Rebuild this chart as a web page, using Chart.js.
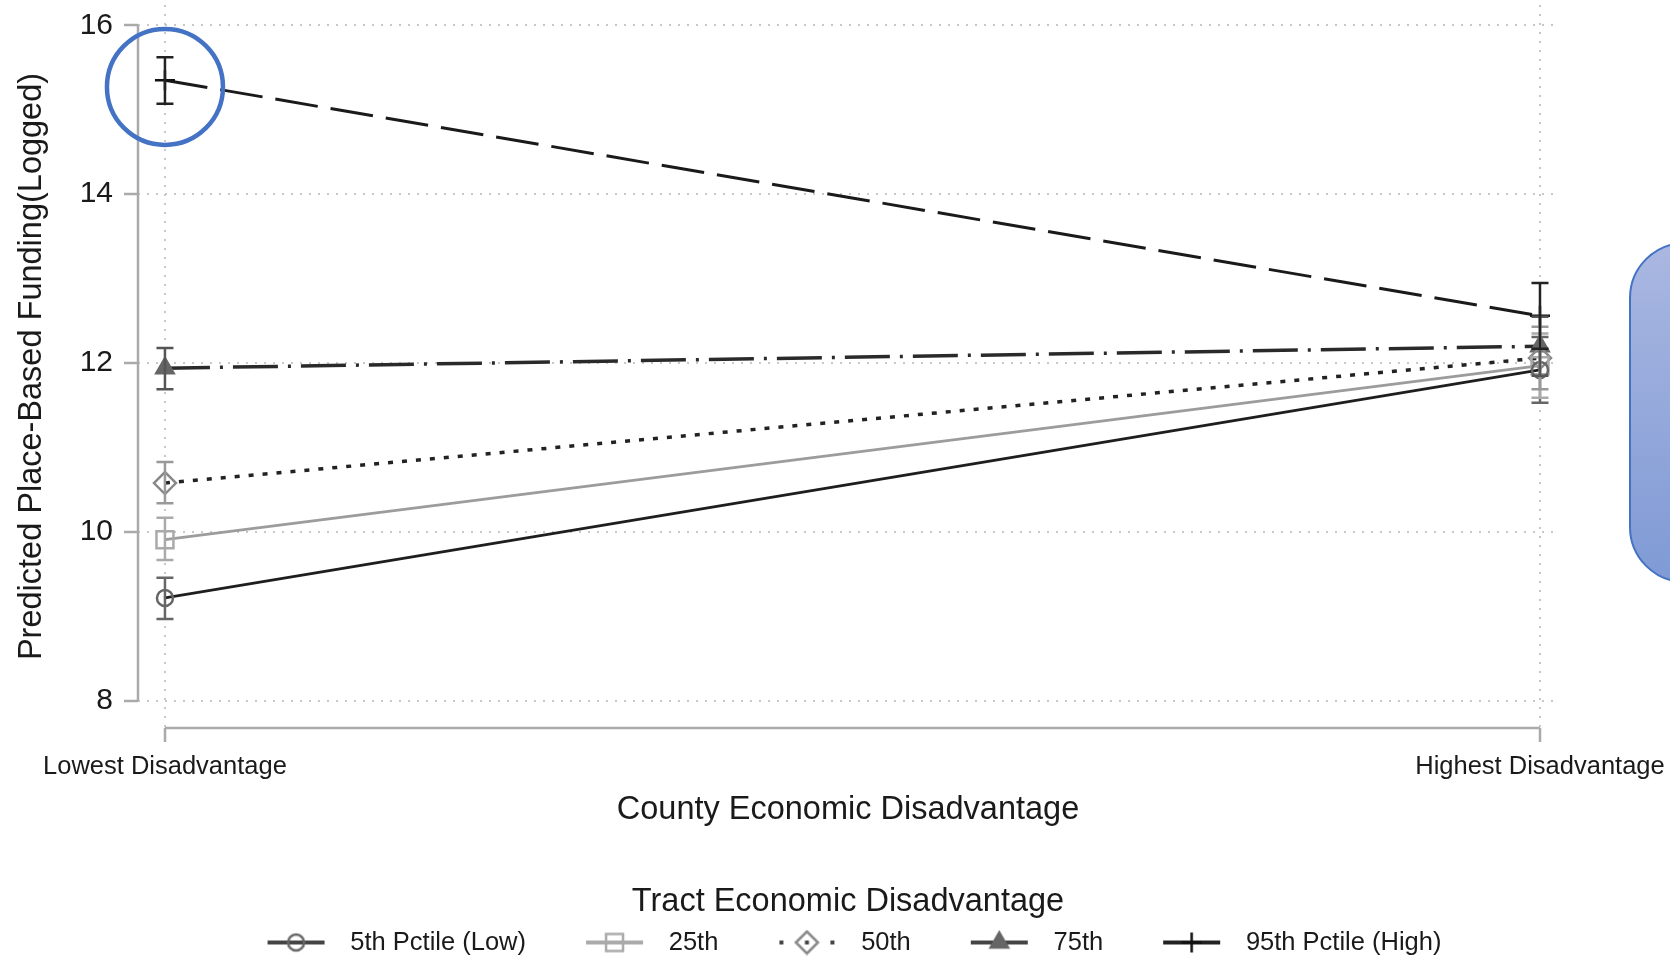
<!DOCTYPE html>
<html>
<head>
<meta charset="utf-8">
<script src="https://cdn.jsdelivr.net/npm/chart.js@4.4.0/dist/chart.umd.min.js"></script>
<style>
  html, body { margin: 0; padding: 0; background: #fff; }
  canvas { display: block; }
</style>
</head>
<body>
<canvas id="chart" width="1670" height="956"></canvas>
<script>
const categories = ['Lowest Disadvantage', 'Highest Disadvantage'];
const xPos = [0, 1];
const yTicks = [8, 10, 12, 14, 16];
const seriesNames = ['5th Pctile (Low)', '25th', '50th', '75th', '95th Pctile (High)'];

// predicted values and 95% CI, [lowest, highest] county disadvantage
const p5 = [9.22, 11.92];
const p5Lo = [8.97, 11.53];
const p5Hi = [9.46, 12.31];
const p25 = [9.91, 11.97];
const p25Lo = [9.67, 11.59];
const p25Hi = [10.17, 12.35];
const p50 = [10.58, 12.06];
const p50Lo = [10.34, 11.69];
const p50Hi = [10.83, 12.43];
const p75 = [11.94, 12.20];
const p75Lo = [11.69, 11.85];
const p75Hi = [12.18, 12.55];
const p95 = [15.35, 12.56];
const p95Lo = [15.07, 12.17];
const p95Hi = [15.62, 12.95];

// the estimate circled in blue
const highlight = { x: 0, y: 15.27 };

const seriesValues = [p5, p25, p50, p75, p95];
const ciLow = [p5Lo, p25Lo, p50Lo, p75Lo, p95Lo];
const ciHigh = [p5Hi, p25Hi, p50Hi, p75Hi, p95Hi];

const styles = [
  { line: '#1e1e1e', key: '#444', mark: '#666', bar: '#666', dash: [], width: 2.8, point: 'circle', radius: 8, fill: 'rgba(0,0,0,0)' },
  { line: '#9c9c9c', key: '#aaa', mark: '#aaa', bar: '#aaa', dash: [], width: 2.8, point: 'rect', radius: 12, fill: 'rgba(0,0,0,0)' },
  { line: '#222', key: '#444', mark: '#888', bar: '#999', dash: [5, 9], width: 3.5, point: 'rectRot', radius: 11, fill: 'rgba(0,0,0,0)' },
  { line: '#2a2a2a', key: '#444', mark: '#666', bar: '#555', dash: [45, 10, 3, 10], width: 3.5, point: 'triangle', radius: 10, fill: '#666' },
  { line: '#1a1a1a', key: '#222', mark: '#111', bar: '#222', dash: [43, 13], width: 3, point: 'cross', radius: 10, fill: 'rgba(0,0,0,0)' }
];

Chart.defaults.font.family = "'Liberation Sans', Arial, sans-serif";
Chart.defaults.color = '#1a1a1a';

function drawMarker(g, st, cx, cy) {
  const r = st.radius;
  g.beginPath();
  if (st.point === 'circle') {
    g.arc(cx, cy, r, 0, Math.PI * 2);
  } else if (st.point === 'rect') {
    const h = r * Math.SQRT1_2;
    g.rect(cx - h, cy - h, 2 * h, 2 * h);
  } else if (st.point === 'rectRot') {
    g.moveTo(cx - r, cy); g.lineTo(cx, cy - r); g.lineTo(cx + r, cy); g.lineTo(cx, cy + r); g.closePath();
  } else if (st.point === 'triangle') {
    g.moveTo(cx, cy - r); g.lineTo(cx + r * 0.866, cy + r * 0.5); g.lineTo(cx - r * 0.866, cy + r * 0.5); g.closePath();
  } else {
    g.moveTo(cx - r, cy); g.lineTo(cx + r, cy); g.moveTo(cx, cy - r); g.lineTo(cx, cy + r);
  }
  g.fillStyle = st.fill;
  if (st.point !== 'cross') g.fill();
  g.strokeStyle = st.mark;
  g.lineWidth = 2.5;
  g.stroke();
}

// legend key: short line with the marker, blank margin either side
function legendIcon(s) {
  const c = document.createElement('canvas');
  c.width = 83; c.height = 26;
  const g = c.getContext('2d');
  const st = styles[s];
  const x0 = 13, cy = 13, cx = x0 + 28.5;
  g.strokeStyle = st.key;
  g.fillStyle = st.key;
  g.lineWidth = 4;
  if (st.point === 'rectRot') {
    g.fillRect(x0 + 1, cy - 2, 4, 4);
    g.fillRect(x0 + 52, cy - 2, 4, 4);
    g.fillRect(cx - 2, cy - 2, 4, 4);
  } else {
    g.beginPath(); g.moveTo(x0, cy); g.lineTo(x0 + 57, cy); g.stroke();
  }
  drawMarker(g, st, cx, cy);
  return c;
}
const legendIcons = seriesNames.map((n, s) => legendIcon(s));

const datasets = seriesNames.map((name, s) => ({
  label: name,
  data: xPos.map((xv, i) => ({ x: xv, y: seriesValues[s][i] })),
  borderColor: styles[s].line,
  borderWidth: styles[s].width,
  borderDash: styles[s].dash,
  pointStyle: styles[s].point,
  pointRadius: styles[s].radius,
  pointBorderColor: styles[s].mark,
  pointBackgroundColor: styles[s].fill,
  pointBorderWidth: 2.5,
  tension: 0,
  fill: false,
  clip: false
}));

// axis lines only over the data range, Stata style
const axisLines = {
  id: 'axisLines',
  beforeDatasetsDraw(chart) {
    const { ctx, chartArea, scales: { x, y } } = chart;
    ctx.save();
    ctx.strokeStyle = '#aaa';
    ctx.lineWidth = 2.5;
    ctx.beginPath();
    ctx.moveTo(chartArea.left, y.getPixelForValue(yTicks[0]));
    ctx.lineTo(chartArea.left, y.getPixelForValue(yTicks[yTicks.length - 1]));
    ctx.moveTo(x.getPixelForValue(xPos[0]), chartArea.bottom);
    ctx.lineTo(x.getPixelForValue(xPos[xPos.length - 1]), chartArea.bottom);
    ctx.stroke();
    ctx.restore();
  }
};

const errorBars = {
  id: 'errorBars',
  afterDatasetsDraw(chart) {
    const { ctx, scales: { x, y } } = chart;
    ctx.save();
    ctx.setLineDash([]);
    ctx.lineWidth = 2.5;
    ciLow.forEach((lo, s) => {
      const hi = ciHigh[s];
      ctx.strokeStyle = styles[s].bar;
      xPos.forEach((xv, i) => {
        const px = x.getPixelForValue(xv);
        const y1 = y.getPixelForValue(lo[i]);
        const y2 = y.getPixelForValue(hi[i]);
        ctx.beginPath();
        ctx.moveTo(px, y1); ctx.lineTo(px, y2);
        ctx.moveTo(px - 8.5, y1); ctx.lineTo(px + 8.5, y1);
        ctx.moveTo(px - 8.5, y2); ctx.lineTo(px + 8.5, y2);
        ctx.stroke();
      });
    });
    ctx.restore();
  }
};

const annotations = {
  id: 'annotations',
  afterDraw(chart) {
    const { ctx, scales: { x, y } } = chart;
    ctx.save();
    // callout box cut off at the right edge
    const bx = chart.width - 40, by = 243, bw = 120, bh = 339;
    const grad = ctx.createLinearGradient(0, by, 0, by + bh);
    grad.addColorStop(0, '#aab7e1');
    grad.addColorStop(1, '#7f9ad5');
    ctx.beginPath();
    ctx.roundRect(bx, by, bw, bh, 55);
    ctx.fillStyle = grad;
    ctx.fill();
    ctx.strokeStyle = '#4472c4';
    ctx.lineWidth = 2;
    ctx.stroke();
    // circle round the highlighted estimate
    ctx.beginPath();
    ctx.arc(x.getPixelForValue(highlight.x), y.getPixelForValue(highlight.y), 58, 0, Math.PI * 2);
    ctx.lineWidth = 4.5;
    ctx.stroke();
    ctx.restore();
  }
};

new Chart(document.getElementById('chart'), {
  type: 'line',
  data: { datasets: datasets },
  options: {
    responsive: false,
    animation: false,
    layout: { autoPadding: false, padding: { left: 10, right: 112, top: 5, bottom: -9.25 } },
    scales: {
      x: {
        type: 'linear',
        min: -0.0196,
        max: 1.0131,
        bounds: 'data',
        afterBuildTicks: s => { s.ticks = xPos.map(v => ({ value: v })); },
        afterFit: s => { s.height = 102; s.paddingLeft = 0; s.paddingRight = 0; },
        ticks: {
          callback: (v, i) => categories[i],
          font: { size: 25.5 },
          padding: 10,
          maxRotation: 0,
          autoSkip: false
        },
        grid: { color: '#c8c8c8', lineWidth: 2, tickLength: 14, tickColor: '#aaa', tickWidth: 2.5, tickBorderDash: [] },
        border: { display: false, dash: [2, 7] },
        title: { display: true, text: 'County Economic Disadvantage', font: { size: 32.5 }, padding: { top: 0, bottom: 0 } }
      },
      y: {
        min: 7.68,
        max: 16.24,
        bounds: 'data',
        afterBuildTicks: s => { s.ticks = yTicks.map(v => ({ value: v })); },
        afterFit: s => { s.width = 128; s.paddingTop = 0; s.paddingBottom = 0; },
        ticks: { font: { size: 30 }, padding: 11 },
        grid: { color: '#c8c8c8', lineWidth: 2, tickLength: 14, tickColor: '#aaa', tickWidth: 2.5, tickBorderDash: [] },
        border: { display: false, dash: [2, 7] },
        title: { display: true, text: 'Predicted Place-Based Funding(Logged)', font: { size: 32.5 }, padding: { top: 3, bottom: 0 } }
      }
    },
    plugins: {
      tooltip: { enabled: false },
      legend: {
        position: 'bottom',
        fullSize: false,
        title: {
          display: true,
          text: 'Tract Economic Disadvantage',
          font: { size: 32.5 },
          color: '#1a1a1a',
          padding: { top: 55.5, bottom: -41.75 }
        },
        labels: {
          usePointStyle: true,
          pointStyleWidth: 83,
          font: { size: 25.5 },
          padding: 47,
          generateLabels: chart => chart.data.datasets.map((ds, i) => ({
            text: ds.label,
            pointStyle: legendIcons[i],
            datasetIndex: i,
            hidden: false,
            fillStyle: 'rgba(0,0,0,0)',
            strokeStyle: 'rgba(0,0,0,0)',
            lineWidth: 0,
            fontColor: '#1a1a1a'
          }))
        }
      }
    }
  },
  plugins: [axisLines, errorBars, annotations]
});
</script>
</body>
</html>
